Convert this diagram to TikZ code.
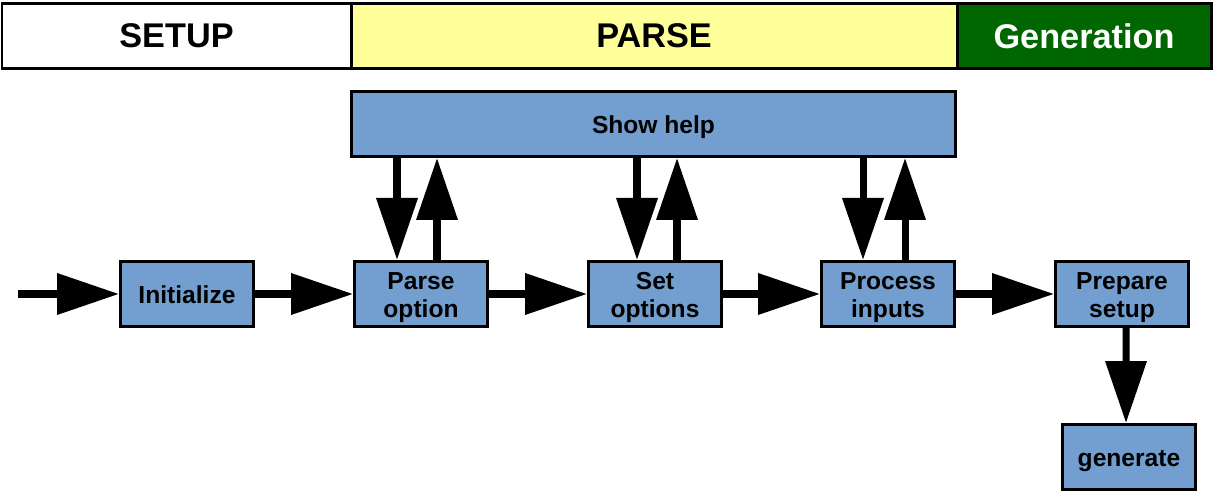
\documentclass[tikz,border=0pt]{standalone}
\usepackage{fontspec}
\setmainfont{Liberation Sans}
\usetikzlibrary{arrows.meta,positioning}
\definecolor{boxblue}{HTML}{729FCF}
\definecolor{parseyellow}{HTML}{FFFF99}
\definecolor{gengreen}{HTML}{006600}
\tikzset{
  band/.style={draw=black,line width=1.7pt,minimum height=1.30cm,inner sep=0pt,
    font=\fontsize{19.5}{22}\selectfont\bfseries},
  stepbox/.style={draw=black,fill=boxblue,line width=1.7pt,minimum width=2.66cm,
    minimum height=1.30cm,inner sep=0pt,align=center,text height=10.5pt,text depth=0pt,
    font=\fontsize{14}{16}\selectfont\bfseries},
  twoline/.style={stepbox,text height=27.1pt},
  flow/.style={line width=4pt,-{Triangle[length=1.24cm,width=0.8cm]}}
}
\begin{document}
\begin{tikzpicture}
    \useasboundingbox (0,0) rectangle (24.26,9.88);
    % phases
    \node[band,fill=white,minimum width=6.98cm] (setup) at (3.53,9.16) {SETUP};
    \node[band,fill=parseyellow,minimum width=12.12cm] (parse) at (13.08,9.16) {PARSE};
    \node[band,fill=gengreen,text=white,minimum width=5.08cm] (gen) at (21.68,9.16) {Generation};
    % steps
    \node[stepbox,minimum width=12.08cm] (help) at (13.07,7.40) {Show help};
    \node[stepbox] (init) at (3.74,4.00) {Initialize};
    \node[twoline] (popt) at (8.42,4.00) {Parse\\option};
    \node[twoline] (sopt) at (13.10,4.00) {Set\\options};
    \node[twoline] (proc) at (17.76,4.00) {Process\\inputs};
    \node[twoline] (prep) at (22.44,4.00) {Prepare\\setup};
    \node[stepbox] (generate) at (22.58,0.74) {generate};
    \coordinate (start) at (0.36,4.00);
    % main flow
    \draw[flow] (start) -- (init);
    \draw[flow] (init) -- (popt);
    \draw[flow] (popt) -- (sopt);
    \draw[flow] (sopt) -- (proc);
    \draw[flow] (proc) -- (prep);
    \draw[flow] ([xshift=0.08cm]prep.south) -- ([xshift=-0.06cm]generate.north);
    % help loops
    \draw[flow] ([xshift=-0.48cm]popt.north |- help.south) -- ([xshift=-0.48cm]popt.north);
    \draw[flow] ([xshift=0.32cm]popt.north) -- ([xshift=0.32cm]popt.north |- help.south);
    \draw[flow] ([xshift=-0.36cm]sopt.north |- help.south) -- ([xshift=-0.36cm]sopt.north);
    \draw[flow] ([xshift=0.44cm]sopt.north) -- ([xshift=0.44cm]sopt.north |- help.south);
    \draw[flow] ([xshift=-0.50cm]proc.north |- help.south) -- ([xshift=-0.50cm]proc.north);
    \draw[flow] ([xshift=0.34cm]proc.north) -- ([xshift=0.34cm]proc.north |- help.south);
\end{tikzpicture}
\end{document}
